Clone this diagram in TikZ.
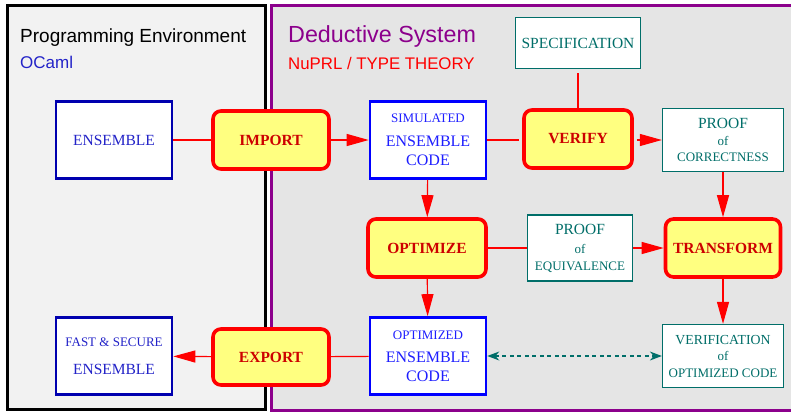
\documentclass[tikz,border=0pt]{standalone}
\usepackage{fontspec}
\setmainfont{Liberation Serif}
\setsansfont{Liberation Sans}
\usetikzlibrary{arrows.meta}

\definecolor{red}{RGB}{255, 0, 0}
\definecolor{darkred}{RGB}{205, 0, 0}
\definecolor{yellow}{RGB}{255, 255, 128}
\definecolor{blue}{RGB}{0, 0, 255}
\definecolor{navy}{RGB}{0, 0, 175}
\definecolor{navytext}{RGB}{35, 35, 200}
\definecolor{bluetext}{RGB}{30, 30, 255}
\definecolor{teal}{RGB}{0, 110, 105}
\definecolor{purple}{RGB}{140, 0, 140}
\definecolor{panelA}{RGB}{242, 242, 242}
\definecolor{panelB}{RGB}{229, 229, 229}

\newcommand{\fs}[1]{\fontsize{#1}{#1}\selectfont}

\tikzstyle{code box}=[draw=#1, line width=2.6pt, fill=white, align=center, inner sep=0pt, minimum width=116pt, minimum height=77pt, font=\fontsize{16}{19}\selectfont]
\tikzstyle{proof box}=[draw=teal, line width=1.3pt, fill=white, text=teal, align=center, inner sep=0pt, font=\fontsize{13}{16.5}\selectfont]
\tikzstyle{tool}=[draw=red, line width=3.6pt, fill=yellow, rounded corners=8pt, text=darkred, inner sep=0pt, minimum height=58pt, font=\bfseries\fontsize{15.5}{18}\selectfont]
\tikzstyle{heading}=[anchor=base west, inner sep=0pt]
\tikzstyle{flow}=[draw=red, line width=1.2pt]
\tikzstyle{flow arrow}=[flow, -{Triangle[length=22pt,width=12pt]}]
\tikzstyle{link}=[draw=teal, line width=1.2pt, dash pattern=on 4pt off 3.5pt, {Stealth[length=12pt,width=9pt]}-{Stealth[length=12pt,width=9pt]}]

\begin{document}
\begin{tikzpicture}[x=1pt, y=-1pt]
  \useasboundingbox (0,0) rectangle (791,412);

  % the two environments
  \draw[line width=3pt, fill=panelA] (7.5,5.5) rectangle (265,409);
  \draw[purple, line width=3pt, fill=panelB] (271,5.5) rectangle (800,410.5);
  \node[heading, font=\sffamily\fs{19}] (pe) at (20,42) {Programming Environment};
  \node[heading, font=\sffamily\fs{17}, text=navytext] (oc) at (20,68) {OCaml};
  \node[heading, font=\sffamily\fs{23.3}, text=purple] (ds) at (288,42) {Deductive System};
  \node[heading, font=\sffamily\fs{16.8}, text=red] (tt) at (288,69) {NuPRL / TYPE THEORY};

  % code
  \node[code box=navy, text=navytext, font=\fs{15.5}] (ens) at (114,140) {ENSEMBLE};
  \node[code box=blue, text=bluetext] (sim) at (428,140) {{\fs{13}SIMULATED}\\[5pt] ENSEMBLE\\ CODE};
  \node[code box=blue, text=bluetext] (oen) at (428,356) {{\fs{13}OPTIMIZED}\\[4pt] ENSEMBLE\\ CODE};
  \node[code box=navy, text=navytext, font=\fs{15.5}] (fse) at (114,356) {{\fs{13}FAST \& SECURE}\\[12pt] ENSEMBLE};

  % tools
  \node[tool, minimum width=116pt] (imp) at (271,140) {IMPORT};
  \node[tool, minimum width=108pt] (ver) at (578,139) {VERIFY};
  \node[tool, minimum width=118pt] (opt) at (427,248) {OPTIMIZE};
  \node[tool, minimum width=115pt] (tra) at (723,248) {TRANSFORM};
  \node[tool, minimum width=116pt, minimum height=56pt] (exp) at (271,357) {EXPORT};

  % proofs
  \node[proof box, minimum width=125pt, minimum height=51pt, font=\fs{15.5}] (spec) at (578,43) {SPECIFICATION};
  \node[proof box, minimum width=121pt, minimum height=63pt] (poc) at (723,140) {{\fs{15.5}PROOF}\\ of\\ CORRECTNESS};
  \node[proof box, minimum width=105pt, minimum height=66pt] (poe) at (580,248) {{\fs{15.5}PROOF}\\[3pt] of\\ EQUIVALENCE};
  \node[proof box, minimum width=121pt, minimum height=63pt] (voc) at (723,356) {{\fs{13.8}VERIFICATION}\\ of\\ OPTIMIZED CODE};

  \draw[flow] (ens) -- (imp);
  \draw[flow arrow] (imp) -- (sim);
  \draw[flow, shorten >=3pt] (sim) -- (sim -| ver.west);
  \draw[flow, shorten <=4pt] (spec) -- (ver);
  \draw[flow arrow, shorten <=3pt] (ver.east |- poc) -- (poc);
  \draw[flow arrow] (sim) -- (opt);
  \draw[flow arrow] (poc) -- (tra);
  \draw[flow] (opt) -- (poe);
  \draw[flow arrow] (poe) -- (tra);
  \draw[flow arrow] (opt) -- (oen);
  \draw[flow arrow] (tra) -- (voc);
  \draw[flow] (oen) -- (exp);
  \draw[flow arrow] (exp) -- (fse);
  \draw[link] (oen) -- (voc);
\end{tikzpicture}
\end{document}
